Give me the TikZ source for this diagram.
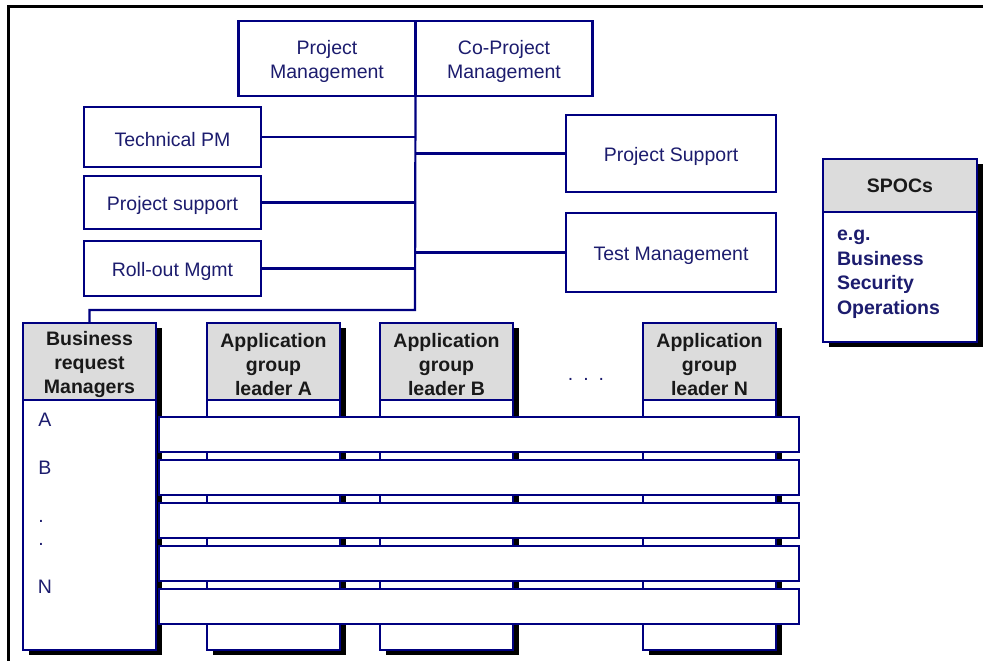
\documentclass[tikz,border=0pt]{standalone}
\usepackage{fontspec}
\setmainfont{Liberation Sans}
\usetikzlibrary{positioning,shadows}
\definecolor{colorline}    {RGB}{  0,  0,128}
\definecolor{colortext}    {RGB}{ 28, 28,110}
\definecolor{colorhead}    {RGB}{220,220,220}
\definecolor{colorheadtext}{RGB}{ 25, 25, 25}
\definecolor{colorframe}   {RGB}{  0,  0,  0}
% taller first line, sets the text a little lower in its box
\newcommand{\firstline}{\rule{0pt}{20pt}}

\begin{document}
\begin{tikzpicture}[
    x=1pt, y=-1pt,
    font={\fontsize{19.5}{24.5}\selectfont},
    base/.style={draw=colorline,line width=2.2pt,fill=white,text=colortext,align=center,inner sep=0pt,outer sep=0pt},
    box/.style={base,minimum width=177pt},
    txt/.style={text=colortext,inner sep=0pt,outer sep=0pt},
    lane/.style={base,line width=2.5pt,minimum width=133pt,minimum height=327pt,drop shadow={fill=black,opacity=1,shadow xshift=6pt,shadow yshift=-5pt}},
    lanehead/.style={base,line width=2.5pt,fill=colorhead,text=colorheadtext,font={\fontsize{19.5}{24}\selectfont\bfseries},minimum width=133pt,minimum height=77pt},
    bar/.style={base,minimum width=640pt,minimum height=35pt},
    tree/.style={draw=colorline,line width=2.2pt},
]
    \useasboundingbox (0,0) rectangle (983,661);

    % outer frame
    \draw[colorframe,line width=3pt] (8.5,661) -- (8.5,6.7) -- (983,6.7);

    % management
    \node[box,minimum height=75pt]                        (pm)   at (327,58.5) {\firstline Project\\Management};
    \node[box,minimum height=75pt,right=0pt of pm]        (copm)                {\firstline Co-Project\\Management};

    % staff on the left
    \node[box,minimum height=60pt]                        (tpm)  at (172.5,137) {\firstline Technical PM};
    \node[box,minimum height=53pt,below=9pt of tpm]       (psup)                 {\firstline Project support};
    \node[box,minimum height=55pt,below=12pt of psup]     (roll)                 {\firstline Roll-out Mgmt};

    % staff on the right
    \node[box,minimum width=210pt,minimum height=77pt]    (psupport) at (671,153.5) {\firstline Project Support};
    \node[box,minimum width=210pt,minimum height=79pt,below=21pt of psupport] (test) {\firstline Test Management};

    \coordinate (bend) at (415,310);
    \draw[tree] (pm.south east) -- (bend) -| (89.5,322);
    \draw[tree] (tpm.east) -- (tpm.east -| bend);
    \draw[tree] (psup.east) -- (psup.east -| bend);
    \draw[tree] (roll.east) -- (roll.east -| bend);
    \draw[tree] (psupport.west) -- (psupport.west -| bend);
    \draw[tree] (test.west) -- (test.west -| bend);

    % SPOCs
    \node[lane,minimum width=154pt,minimum height=183pt]  (spocs) at (900,250.5) {};
    \node[lanehead,minimum width=154pt,minimum height=53pt,anchor=north] (spocshead) at (spocs.north) {SPOCs};
    \node[txt,align=left,font={\fontsize{19.5}{24.5}\selectfont\bfseries},below right=18pt and 14pt of spocshead.south west] (spocstxt) {e.g.\\Business\\Security\\Operations};

    % lanes
    \node[lane] (brm)  at (89.5,486.5)  {};
    \node[lane] (appa) at (273.5,486.5) {};
    \node[lane] (appb) at (446.5,486.5) {};
    \node[lane] (appn) at (709.5,486.5) {};
    \node[lanehead,anchor=north] (brmhead)  at (brm.north)  {\firstline Business\\request\\Managers};
    \node[lanehead,anchor=north] (appahead) at (appa.north) {\firstline Application\\group\\leader A};
    \node[lanehead,anchor=north] (appbhead) at (appb.north) {\firstline Application\\group\\leader B};
    \node[lanehead,anchor=north] (appnhead) at (appn.north) {\firstline Application\\group\\leader N};
    \node[txt,anchor=base] (more) at (586,380) {.\hspace{10pt}.\hspace{10pt}.};

    % requests across the lanes
    \node[bar] (bar1) at (479,434.5) {};
    \node[bar,below=8pt of bar1] (bar2) {};
    \node[bar,below=8pt of bar2] (bar3) {};
    \node[bar,below=8pt of bar3] (bar4) {};
    \node[bar,below=8pt of bar4] (bar5) {};

    \node[txt] (reqa) at (45,420) {A};
    \node[txt] (reqb) at (45,468) {B};
    \node[txt,anchor=base] (dota) at (41,522) {.};
    \node[txt,anchor=base] (dotb) at (41,545) {.};
    \node[txt] (reqn) at (45,587) {N};

\end{tikzpicture}
\end{document}
